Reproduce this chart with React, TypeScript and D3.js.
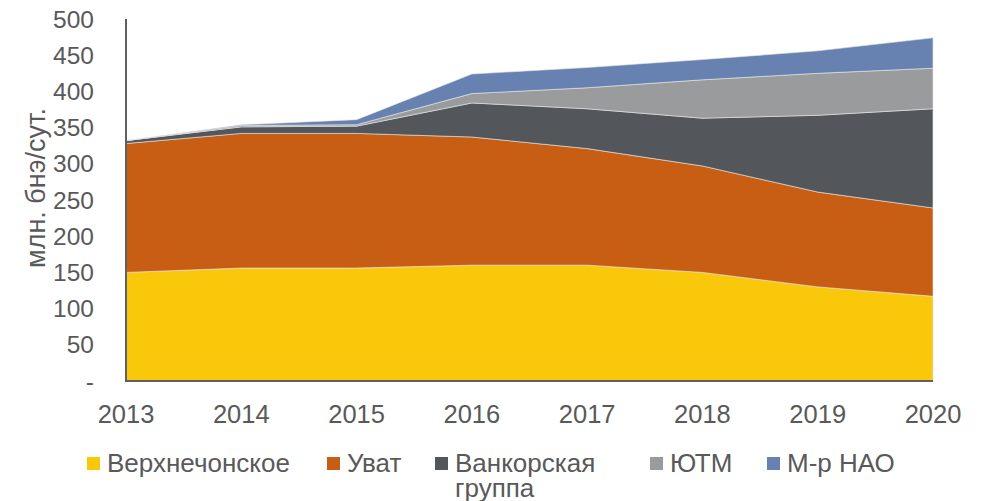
import React, { useEffect, useRef } from 'react';
import * as d3 from 'd3';

const years = ['2013', '2014', '2015', '2016', '2017', '2018', '2019', '2020'];
const seriesNames = ['Верхнечонское', 'Уват', 'Ванкорская группа', 'ЮТМ', 'М-р НАО'];
const verkhnechonskoe = [150, 156, 156, 160, 160, 150, 130, 117];
const uvat = [178, 186, 186, 177, 161, 147, 131, 122];
const vankor = [4, 9, 10, 47, 55, 66, 106, 137];
const yutm = [0, 2, 2, 13, 29, 53, 58, 56];
const nao = [0, 1, 7, 27, 28, 28, 31, 42];
const yTicks = [0, 50, 100, 150, 200, 250, 300, 350, 400, 450, 500];
const colors = ['#f9c80a', '#c85e14', '#53565a', '#9a9b9c', '#6782b0'];

const W = 981;
const H = 501;

export default function App() {
  const ref = useRef<SVGSVGElement>(null);

  useEffect(() => {
    const svg = d3.select(ref.current);
    svg.selectAll('*').remove();

    const values = [verkhnechonskoe, uvat, vankor, yutm, nao];
    const rows = years.map((yr, i) => {
      const row: any = { year: yr };
      seriesNames.forEach((n, k) => (row[n] = values[k][i]));
      return row;
    });

    const x = d3.scalePoint().domain(years).range([126, 933]);
    const y = d3.scaleLinear().domain([0, 500]).range([381, 19]);

    const stacked = d3.stack().keys(seriesNames)(rows);
    const area = d3
      .area<any>()
      .x(d => x(d.data.year) as number)
      .y0(d => y(d[0]))
      .y1(d => y(d[1]));

    svg
      .append('g')
      .selectAll('path')
      .data(stacked)
      .enter()
      .append('path')
      .attr('d', area)
      .attr('fill', (d, i) => colors[i])
      .attr('stroke', '#e8e8e8')
      .attr('stroke-width', 0.6);

    const textColor = '#595959';
    const font = 'Liberation Sans, Arial, sans-serif';

    // axes lines
    svg
      .append('line')
      .attr('x1', 126)
      .attr('x2', 126)
      .attr('y1', y(500))
      .attr('y2', y(0))
      .attr('stroke', '#5f6063')
      .attr('stroke-width', 2);
    svg
      .append('line')
      .attr('x1', 125)
      .attr('x2', 933)
      .attr('y1', y(0))
      .attr('y2', y(0))
      .attr('stroke', '#5f6063')
      .attr('stroke-width', 2);

    svg
      .append('g')
      .selectAll('text')
      .data(yTicks)
      .enter()
      .append('text')
      .attr('x', 94)
      .attr('y', d => y(d))
      .attr('dy', '0.35em')
      .attr('text-anchor', 'end')
      .attr('fill', textColor)
      .style('font-family', font)
      .style('font-size', '24.5px')
      .text(d => (d === 0 ? '-' : String(d)));

    svg
      .append('g')
      .selectAll('text')
      .data(years)
      .enter()
      .append('text')
      .attr('x', d => x(d) as number)
      .attr('y', 414)
      .attr('dy', '0.35em')
      .attr('text-anchor', 'middle')
      .attr('fill', textColor)
      .style('font-family', font)
      .style('font-size', '25.5px')
      .text(d => d);

    svg
      .append('text')
      .attr('transform', 'translate(36,188) rotate(-90)')
      .attr('text-anchor', 'middle')
      .attr('dy', '0.35em')
      .attr('fill', textColor)
      .style('font-family', font)
      .style('font-size', '27px')
      .text('млн. бнэ/сут.');

    // legend
    const legendX = [87, 327, 435, 650, 767];
    const legend = svg
      .append('g')
      .selectAll('g')
      .data(seriesNames)
      .enter()
      .append('g')
      .attr('transform', (d, i) => `translate(${legendX[i]},457)`);
    legend
      .append('rect')
      .attr('width', 13)
      .attr('height', 13)
      .attr('fill', (d, i) => colors[i]);
    legend
      .append('text')
      .attr('y', 15)
      .attr('fill', textColor)
      .style('font-family', font)
      .style('font-size', '26px')
      .each(function (d) {
        const parts = d === 'Ванкорская группа' ? ['Ванкорская', 'группа'] : [d];
        parts.forEach((p, j) => {
          d3.select(this)
            .append('tspan')
            .attr('x', 20)
            .attr('dy', j === 0 ? 0 : 25)
            .text(p);
        });
      });
  }, []);

  return (
    <svg
      ref={ref}
      width={W}
      height={H}
      style={{ position: 'absolute', left: 0, top: 0, background: '#fff' }}
    />
  );
}
